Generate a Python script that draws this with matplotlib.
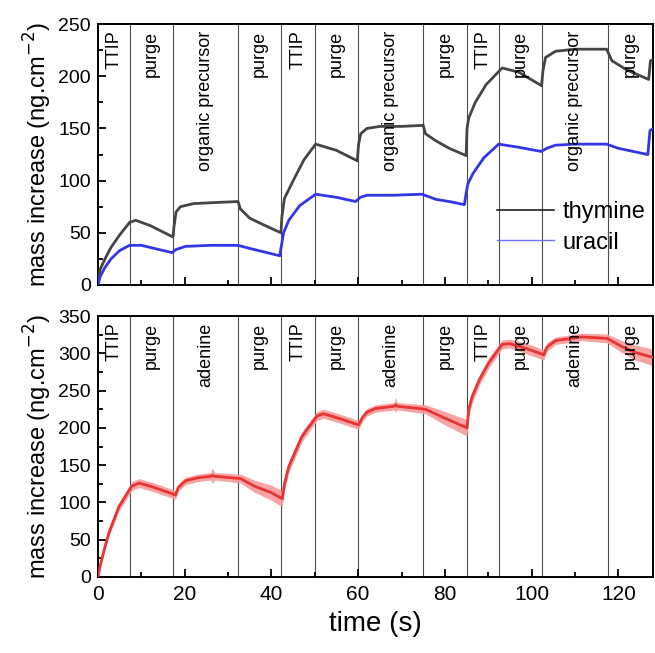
import numpy as np
import matplotlib
matplotlib.use("Agg")
import matplotlib.pyplot as plt
from matplotlib.ticker import MultipleLocator

plt.rcParams['font.family'] = ['Liberation Sans', 'DejaVu Sans']

''' Data read off the reference '''
# step boundaries (s)
bounds = [0, 7.3, 17.4, 32.3, 42.3, 50.0, 60.0, 75.0, 85.0, 92.5, 102.5, 117.5, 128]
steps_top = ["TTIP", "purge", "organic precursor", "purge",
             "TTIP", "purge", "organic precursor", "purge",
             "TTIP", "purge", "organic precursor", "purge"]
steps_bot = ["TTIP", "purge", "adenine", "purge",
             "TTIP", "purge", "adenine", "purge",
             "TTIP", "purge", "adenine", "purge"]

thy_t = [0, 0.5, 1.5, 3, 5, 7.3, 8.7, 12, 17.3, 17.5, 18, 19, 22, 27, 32.3,
         32.8, 35, 38, 42.2, 42.4, 43, 45.5, 47.5, 50.2, 55, 59.8, 60.1, 60.6,
         62, 65, 70, 75, 75.5, 78, 81, 84.9, 85.1, 85.5, 87, 89.5, 93.2, 97,
         102.3, 102.6, 103.2, 105.5, 110, 117.3, 118.5, 122, 127, 127.4, 128]
thy_m = [3, 15, 24, 36, 48, 60, 62, 57, 46, 55, 70, 75, 78, 79, 80,
         73, 64, 58, 50, 65, 83, 104, 120, 135, 129, 119, 135, 145,
         150, 152, 152, 153, 145, 138, 131, 124, 150, 160, 175, 192, 208, 204,
         191, 205, 218, 224, 226, 226, 215, 206, 197, 215, 216]

ura_t = [0, 0.5, 1.5, 3, 5, 7.3, 10, 13, 17.1, 18, 20.2, 26, 32.3, 35, 38,
         41.9, 42.4, 42.8, 44, 46.5, 50.2, 55, 59.4, 60.5, 62, 68, 74.7, 78,
         81, 84.5, 84.9, 85.3, 86.5, 89, 92.4, 97, 102.2, 103.5, 105.5, 110,
         117.3, 120, 126.8, 127.3, 128]
ura_m = [0, 8, 16, 25, 33, 38, 38, 35, 31, 34, 37, 38, 38, 35, 32,
         28, 40, 50, 62, 76, 87, 84, 80, 84, 86, 86, 87, 82,
         80, 77, 88, 97, 107, 122, 135, 132, 128, 131, 134, 135,
         135, 131, 125, 148, 150]

ade_t = [0, 0.5, 1.5, 2.5, 4.8, 7.8, 9.5, 13, 17.9, 18.5, 20.2, 23, 26, 26.3,
         27, 32.9, 36, 40, 42.5, 43, 44, 47, 50.5, 52, 56, 60.1, 61, 62, 64,
         68.3, 68.6, 69, 75.5, 80, 85.1, 85.5, 86.3, 88, 90.1, 93.2, 95, 99,
         102.8, 103.5, 105.5, 111.6, 117.4, 120.8, 124, 127.7]
ade_m = [0, 15, 38, 59, 94, 122, 126, 120, 110, 120, 129, 133, 135, 136,
         135, 132, 122, 113, 105, 125, 148, 188, 216, 219, 212, 204, 214, 221, 226,
         229, 231, 229, 225, 213, 200, 225, 242, 265, 287, 312, 313, 306,
         298, 308, 317, 322, 320, 309, 301, 295]
ade_sd = [2, 3, 4, 5, 6, 6, 6, 6, 6, 5, 5, 5, 5, 10,
          5, 6, 8, 10, 11, 10, 8, 7, 6, 6, 6, 6, 5, 5, 5,
          5, 10, 5, 6, 9, 11, 10, 8, 7, 7, 6, 6, 7,
          7, 6, 5, 5, 6, 8, 10, 11]

''' Figure '''
fig = plt.figure(figsize=(6.55, 6.53), dpi=100)
ax1 = fig.add_axes([0.1496, 0.5636, 0.8474, 0.3994])
ax2 = fig.add_axes([0.1496, 0.1164, 0.8474, 0.3996])

l1, = ax1.plot(thy_t, thy_m, color="#454545", lw=2.0, label="thymine", zorder=3)
l2, = ax1.plot(ura_t, ura_m, color="#3535e8", lw=2.0, label="uracil", zorder=3)

lo = np.array(ade_m) - np.array(ade_sd)
hi = np.array(ade_m) + np.array(ade_sd)
ax2.fill_between(ade_t, lo, hi, color="#f59a9a", lw=0, alpha=0.9, zorder=2)
ax2.plot(ade_t, ade_m, color="#ea3434", lw=2.0, zorder=3)

for ax, steps, ymax in [(ax1, steps_top, 250), (ax2, steps_bot, 350)]:
    for b in bounds[1:-1]:
        ax.axvline(b, color="0.3", lw=0.8, zorder=1)
    for i, s in enumerate(steps):
        xm = 0.5 * (bounds[i] + bounds[i + 1])
        ax.text(xm, ymax * 0.975, s, rotation=90, ha="center", va="top",
                fontsize=13, zorder=4)
    ax.set_xlim(0, 128)
    ax.set_ylim(0, ymax)
    ax.xaxis.set_major_locator(MultipleLocator(20))
    ax.xaxis.set_minor_locator(MultipleLocator(10))
    ax.yaxis.set_major_locator(MultipleLocator(50))
    ax.yaxis.set_minor_locator(MultipleLocator(25))
    ax.tick_params(which="both", direction="in", width=1.3)
    ax.tick_params(axis="y", labelsize=14, pad=5)
    ax.tick_params(axis="x", labelsize=15, pad=6)
    ax.tick_params(which="major", length=6)
    ax.tick_params(which="minor", length=3.5)
    for sp in ax.spines.values():
        sp.set_linewidth(1.4)
    ax.set_ylabel("mass increase (ng.cm$^{-2}$)", fontsize=17, labelpad=3)

ax1.tick_params(axis="x", labelbottom=False)
ax2.set_xlabel("time (s)", fontsize=20, labelpad=5)

leg = ax1.legend(handles=[l1, l2], loc="lower left", bbox_to_anchor=(0.718, 0.12),
                 frameon=False, fontsize=17, handlelength=2.45, handletextpad=0.34,
                 labelspacing=0.35, borderaxespad=0, borderpad=0)
leg.get_lines()[0].set_linewidth(1.2)
leg.get_lines()[0].set_color("#202020")
leg.get_lines()[1].set_linewidth(1.0)
leg.get_lines()[1].set_color("#7070f0")

fig.savefig("out.png", dpi=100)
